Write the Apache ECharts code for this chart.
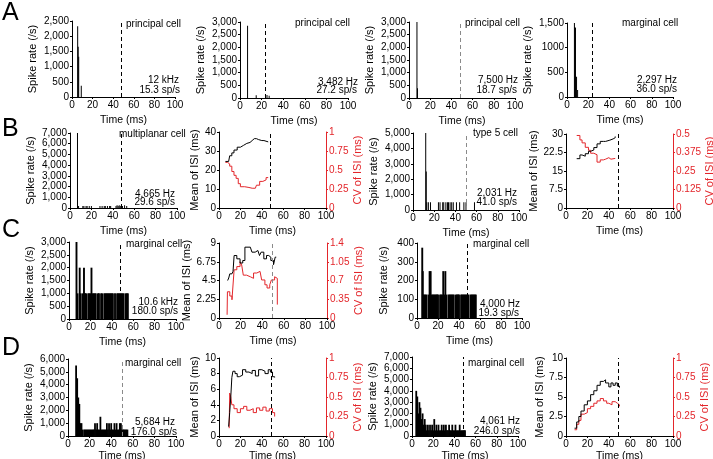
<!DOCTYPE html>
<html>
<head>
<meta charset="utf-8">
<script src="https://cdn.jsdelivr.net/npm/echarts@6/dist/echarts.min.js"></script>
<style>
  html, body { margin: 0; padding: 0; background: #fff; }
  #chart { width: 713px; height: 459px; }
</style>
</head>
<body>
<div id="chart"></div>
<script>
// ---- data ----
var timeTicks = [0, 20, 40, 60, 80, 100];

// row A
var a1Ticks = [0, 500, 1000, 1500, 2000, 2500];
var a1Labels = ['0', '500', '1,000', '1,500', '2,000', '2,500'];
var a1Bars = [[5.5, 2330], [6, 1650], [6.5, 1320], [9, 370]];

var a2Ticks = [0, 500, 1000, 1500, 2000, 2500, 3000];
var a2Labels = ['0', '500', '1,000', '1,500', '2,000', '2,500', '3,000'];
var a2Bars = [[7, 2850], [15, 110], [25, 120], [27, 90]];

var a3Ticks = [0, 500, 1000, 1500, 2000, 2500, 3000];
var a3Labels = ['0', '500', '1,000', '1,500', '2,000', '2,500', '3,000'];
var a3Bars = [[7.5, 3000], [8, 380]];

var a4Ticks = [0, 500, 1000, 1500];
var a4Labels = ['0', '500', '1000', '1,500'];
var a4Bars = [[7, 1500], [7.5, 1420], [8, 1400], [9, 410], [10, 140]];

// row B
var b1Ticks = [0, 1000, 2000, 3000, 4000, 5000, 6000, 7000];
var b1Labels = ['0', '1,000', '2,000', '3,000', '4,000', '5,000', '6,000', '7,000'];
var b1Bars = [[7, 7000], [8, 180], [12, 180], [13, 180], [15, 180], [16, 180], [18, 180], [20, 180],
  [28, 180], [30, 180], [32, 180], [33, 180], [35, 180], [37, 180], [38, 180], [43, 180], [44, 250],
  [45, 180], [46, 250], [47, 180], [48, 250], [49, 180], [51, 250], [53, 180]];

var b2MeanTicks = [0, 10, 20, 30, 40];
var b2CvTicks = [0, 0.25, 0.5, 0.75, 1];
var b2Mean = [[6, 24.5], [9, 25], [10, 27.5], [12, 29], [14, 30.5], [17, 32], [20, 33], [23, 34],
  [26, 34.5], [29, 35.5], [31, 36.5], [33, 36.5], [35, 36], [37, 35.5], [40, 35.5], [42, 34.8], [46, 34.5]];
var b2Cv = [[6, 0.6], [8, 0.58], [10, 0.55], [12, 0.48], [14, 0.43], [16, 0.39], [18, 0.32], [20, 0.28],
  [24, 0.27], [28, 0.26], [31, 0.26], [34, 0.24], [35, 0.3], [38, 0.35], [41, 0.37], [44, 0.4], [46, 0.4]];

var b3Ticks = [0, 1000, 2000, 3000, 4000, 5000];
var b3Labels = ['0', '1,000', '2,000', '3,000', '4,000', '5,000'];
var b3Bars = [[12, 5000], [12.5, 2500], [13, 500], [14.5, 500], [16.5, 500], [24, 500], [25.5, 500],
  [28, 500], [29, 500], [31, 500], [32.5, 500], [33.5, 500], [35, 500], [36.5, 500], [38, 500],
  [41, 500], [44, 500], [48, 500], [50, 500], [58, 500]];

var b4MeanTicks = [0, 7.5, 15, 22.5, 30];
var b4CvTicks = [0, 0.125, 0.25, 0.375, 0.5];
var b4Mean = [[10, 20], [13, 21.5], [15, 21], [18, 22], [21, 23], [23, 23.5], [26, 24.5], [29, 26],
  [32, 27], [35, 27], [37, 27.5], [41, 28], [44, 28.5], [46, 29]];
var b4Cv = [[10, 0.49], [13, 0.46], [15, 0.44], [18, 0.41], [21, 0.39], [23, 0.37], [26, 0.36],
  [29, 0.31], [32, 0.325], [35, 0.33], [37, 0.34], [40, 0.33], [42, 0.335], [46, 0.335]];

// row C
var c1Ticks = [0, 500, 1000, 1500, 2000, 2500, 3000];
var c1Labels = ['0', '500', '1,000', '1,500', '2,000', '2,500', '3,000'];
var c1Bars = [[7, 3000], [8, 1000], [10, 2000], [11, 1000], [13, 1000], [14, 2000], [15, 1000],
  [16, 1000], [18, 1000], [19, 1000], [20, 1000], [21, 2000], [22, 1000], [23, 1000], [24, 1000],
  [25, 1000], [27, 1000], [28, 1000], [30, 1000], [31, 1000], [33, 1000], [34, 1000], [35, 1000],
  [36, 1000], [37, 1000], [38, 1000], [39, 1000], [40, 1000], [41, 1000], [43, 1000], [45, 1000],
  [46, 1000], [47, 1000], [48, 1000], [49, 1000], [50, 1000], [51, 1000], [53, 1000], [54, 1000], [55, 1000]];

var c2MeanTicks = [0, 2.25, 4.5, 6.75, 9];
var c2CvTicks = [0, 0.35, 0.7, 1.05, 1.4];
var c2Mean = [[8, 4.5], [9, 4.8], [10, 5.3], [12, 5.4], [13, 5.6], [14, 7.5], [16.5, 7.1], [19.5, 6.6],
  [22, 6.9], [24, 8.5], [29, 8.3], [30.5, 7.9], [33.5, 8.1], [36, 8.3], [37.5, 7.5], [39, 7.9],
  [41.5, 7.1], [44, 7.5], [46, 7.3], [48, 6.9], [50.5, 6.4], [52, 7.3], [53, 7.3]];
var c2Cv = [[7.5, 0.06], [7.8, 0.49], [10, 0.41], [12, 0.34], [13.5, 0.31], [14, 0.9], [16.5, 0.96],
  [19.5, 1.05], [21, 0.99], [22.5, 0.8], [25.5, 0.77], [29, 0.74], [32, 0.84], [35, 0.87], [38, 0.89],
  [39.5, 0.71], [42.5, 0.62], [44.5, 0.56], [47, 0.62], [48.5, 0.71], [51.5, 0.77], [53, 0.74], [54, 0.25]];

var c3Ticks = [0, 100, 200, 300, 400];
var c3Labels = ['0', '100', '200', '300', '400'];
var c3Bars = [[5, 375], [5.5, 250], [6, 125], [7, 125], [8, 125], [9, 125], [11, 125], [12, 250],
  [13, 250], [14, 125], [15, 125], [16, 125], [17, 125], [18, 125], [19, 125], [20, 125], [22, 125],
  [23, 125], [24, 125], [25, 250], [26, 125], [27, 250], [28, 125], [30, 125], [31, 125], [32, 125],
  [33, 125], [34, 125], [35, 125], [37, 125], [38, 125], [39, 125], [40, 125], [42, 125], [43, 125],
  [44, 125], [45, 125], [46, 125], [47, 125], [48, 125], [49, 125], [51, 125], [52, 125], [53, 125],
  [54, 125], [55, 125], [56, 125]];

// row D
var d1Ticks = [0, 1000, 2000, 3000, 4000, 5000, 6000];
var d1Labels = ['0', '1,000', '2,000', '3,000', '4,000', '5,000', '6,000'];
var d1Bars = [[7.5, 5500], [8.5, 4500], [9.5, 3000], [10.5, 2500], [11.5, 1000], [12.5, 1000],
  [13.5, 500], [15, 500], [16, 500], [17, 500], [18, 500], [19, 500], [20, 500], [21, 500], [22, 500],
  [23, 500], [24, 500], [25, 1000], [26, 500], [27, 1000], [28, 500], [29, 500], [30, 1500], [31, 500],
  [32, 500], [33, 500], [34, 500], [35, 500], [36, 1000], [37, 500], [38, 1000], [39, 500], [40, 1000],
  [41, 500], [42, 500], [43, 1000], [44, 500], [45, 1000], [46, 500], [47, 500], [48, 1000], [49, 1000],
  [50, 500], [51, 500], [52, 500], [53, 500], [54, 500], [55, 500]];

var d2MeanTicks = [0, 2, 4, 6, 8, 10];
var d2CvTicks = [0, 0.25, 0.5, 0.75, 1];
var d2Mean = [[9, 1.2], [10, 3], [11, 5], [12, 7.5], [13, 8.3], [15, 8], [17, 7.6], [19, 7.8], [22, 8.5],
  [25, 8.2], [28, 8], [31, 8.4], [34, 7.7], [37, 8.5], [40, 8.3], [43, 8], [46, 8.5], [48, 8.2],
  [50, 7.6], [52, 7.5]];
var d2Cv = [[9.5, 0.1], [10, 0.55], [11, 0.5], [12, 0.4], [14, 0.35], [17, 0.3], [20, 0.35], [23, 0.38],
  [26, 0.33], [29, 0.35], [32, 0.3], [35, 0.36], [38, 0.33], [41, 0.37], [44, 0.32], [47, 0.35],
  [50, 0.3], [52, 0.25]];

var d3Ticks = [0, 1000, 2000, 3000, 4000, 5000, 6000, 7000];
var d3Labels = ['0', '1,000', '2,000', '3,000', '4,000', '5,000', '6,000', '7,000'];
var d3Bars = [[4, 4000], [5, 3500], [6, 2000], [7, 3000], [8, 2500], [9, 1500], [10, 2000], [11, 1000],
  [12, 1500], [13, 1000], [14, 500], [15, 1000], [16, 500], [17, 1000], [18, 500], [19, 1000], [20, 500],
  [21, 1500], [22, 500], [23, 1000], [24, 500], [25, 1000], [26, 500], [27, 500], [28, 1000], [29, 500],
  [30, 1000], [31, 500], [32, 1000], [33, 500], [34, 500], [35, 1000], [36, 500], [37, 500], [38, 1000],
  [39, 500], [40, 500], [41, 1000], [42, 500], [43, 500], [44, 500], [45, 1000], [46, 500], [47, 500],
  [48, 500], [49, 500], [50, 500]];

var d4MeanTicks = [0, 2.5, 5, 7.5, 10];
var d4CvTicks = [0, 0.25, 0.5, 0.75, 1];
var d4Mean = [[8, 1], [10, 1.8], [12, 2.5], [14, 3.2], [17, 4], [20, 4.5], [23, 5.3], [26, 5.8], [29, 6.5],
  [32, 7], [35, 7.2], [37, 6.8], [40, 6.3], [42, 6.8], [44, 6.5], [46, 6.8], [48, 6.4], [50, 6.2]];
var d4Cv = [[8, 0.08], [10, 0.15], [12, 0.2], [14, 0.28], [17, 0.3], [20, 0.35], [23, 0.38], [26, 0.42],
  [29, 0.45], [32, 0.48], [35, 0.45], [38, 0.42], [40, 0.4], [43, 0.44], [46, 0.42], [48, 0.4], [50, 0.38]];

// ---- building ----
var FONT = "'Liberation Sans', Arial, Helvetica, sans-serif";
var RED = '#e3262b';
var GRAY = '#8a8a8a';
var grids = [], xAxes = [], yAxes = [], series = [], texts = [];

function tickFmt(ticks, labels) {
  return function (v) {
    var i = Math.round((v - ticks[0]) / (ticks[1] - ticks[0]));
    return labels ? labels[i] : String(ticks[i]);
  };
}

function makeAxisY(gi, ticks, labels, name, gap, color, pos) {
  yAxes.push({
    gridIndex: gi, type: 'value', position: pos || 'left',
    min: ticks[0], max: ticks[ticks.length - 1], interval: ticks[1] - ticks[0],
    name: name, nameLocation: 'middle', nameGap: gap, nameRotate: 90,
    nameTextStyle: { fontSize: 11, color: color, fontFamily: FONT },
    axisLine: { show: true, lineStyle: { color: color, width: 1 } },
    axisTick: { show: true, length: 2, lineStyle: { color: color } },
    axisLabel: { fontSize: 10, color: color, margin: 3, fontFamily: FONT, formatter: tickFmt(ticks, labels) },
    splitLine: { show: false }
  });
  return yAxes.length - 1;
}

function makeGrid(box, timeGap) {
  grids.push({ left: box[0], top: box[1], width: box[2], height: box[3], containLabel: false, outerBoundsMode: 'none' });
  var gi = grids.length - 1;
  xAxes.push({
    gridIndex: gi, type: 'value', min: timeTicks[0], max: timeTicks[timeTicks.length - 1],
    interval: timeTicks[1] - timeTicks[0],
    name: 'Time (ms)', nameLocation: 'middle', nameGap: timeGap || 18,
    nameTextStyle: { fontSize: 10.5, color: '#000', fontFamily: FONT },
    axisLine: { show: true, onZero: false, lineStyle: { color: '#000', width: 1 } },
    axisTick: { show: true, length: 2, lineStyle: { color: '#000' } },
    axisLabel: { fontSize: 10, color: '#000', margin: 3, fontFamily: FONT },
    splitLine: { show: false }
  });
  return gi;
}

function dash(x, color) {
  return {
    silent: true, symbol: ['none', 'none'], label: { show: false },
    lineStyle: { type: [4, 3], color: color, width: 1 },
    data: [{ xAxis: x }]
  };
}

function psth(box, ticks, labels, bars, dashX, dashColor, nameGap, barW, timeGap) {
  var gi = makeGrid(box, timeGap);
  var yi = makeAxisY(gi, ticks, labels, 'Spike rate (/s)', nameGap, '#000');
  series.push({
    type: 'bar', xAxisIndex: gi, yAxisIndex: yi, data: bars, barWidth: barW || 1,
    itemStyle: { color: '#000' }, markLine: dash(dashX, dashColor)
  });
}

function isi(box, meanTicks, cvTicks, mean, cv, dashX, dashColor, timeGap) {
  var gi = makeGrid(box, timeGap);
  var yl = makeAxisY(gi, meanTicks, null, 'Mean of ISI (ms)', 19, '#000', 'left');
  var yr = makeAxisY(gi, cvTicks, null, 'CV of ISI (ms)', 25, RED, 'right');
  series.push({
    type: 'line', step: 'end', xAxisIndex: gi, yAxisIndex: yr, data: cv, symbol: 'none',
    lineStyle: { color: RED, width: 1 }
  });
  series.push({
    type: 'line', step: 'end', xAxisIndex: gi, yAxisIndex: yl, data: mean, symbol: 'none',
    lineStyle: { color: '#000', width: 1 }, markLine: dash(dashX, dashColor)
  });
}

function note(str, x, y, align, size) {
  texts.push({
    type: 'text', silent: true,
    style: { text: str, x: x, y: y, align: align, textAlign: align, verticalAlign: 'middle',
      textVerticalAlign: 'middle', fontSize: size || 10, fontFamily: FONT, fill: '#000' }
  });
}

psth([72, 21, 103, 76], a1Ticks, a1Labels, a1Bars, 48, '#000', 34);
psth([240, 22, 108, 76], a2Ticks, a2Labels, a2Bars, 23.5, '#000', 34);
psth([409, 22, 106, 76], a3Ticks, a3Labels, a3Bars, 48, GRAY, 34);
psth([567, 23, 106, 74], a4Ticks, a4Labels, a4Bars, 23.5, '#000', 34);

psth([70, 133, 107, 75], b1Ticks, b1Labels, b1Bars, 48, '#000', 34);
isi([219, 132, 107, 76], b2MeanTicks, b2CvTicks, b2Mean, b2Cv, 48, '#000');
psth([413, 133, 106, 77], b3Ticks, b3Labels, b3Bars, 50, GRAY, 34);
isi([566, 134, 107, 74], b4MeanTicks, b4CvTicks, b4Mean, b4Cv, 49, '#000');

psth([69, 242, 107, 77], c1Ticks, c1Labels, c1Bars, 48, '#000', 34, 1.9);
isi([219, 243, 108, 75], c2MeanTicks, c2CvTicks, c2Mean, c2Cv, 49, GRAY);
psth([417, 243, 105, 75], c3Ticks, c3Labels, c3Bars, 48, '#000', 28, 1.9);

psth([68, 359, 108, 77], d1Ticks, d1Labels, d1Bars, 50, GRAY, 34, 1.8, 15);
isi([219, 358, 107, 78], d2MeanTicks, d2CvTicks, d2Mean, d2Cv, 49, '#000', 15);
psth([412, 357, 106, 79], d3Ticks, d3Labels, d3Bars, 48, '#000', 34, 1.8, 15);
isi([566, 358, 107, 78], d4MeanTicks, d4CvTicks, d4Mean, d4Cv, 49, '#000', 15);

// panel letters
note('A', 2, 13, 'left', 25);
note('B', 2, 129, 'left', 25);
note('C', 2, 230, 'left', 25);
note('D', 2, 348, 'left', 25);

// cell labels and stimulus notes
note('principal cell', 126, 24, 'left');
note('12 kHz', 179, 80, 'right');
note('15.3 sp/s', 180, 90, 'right');
note('principal cell', 295, 23, 'left');
note('3,482 Hz', 358, 82, 'right');
note('27.2 sp/s', 357, 90, 'right');
note('principal cell', 465, 23, 'left');
note('7,500 Hz', 518, 80, 'right');
note('18.7 sp/s', 517, 90, 'right');
note('marginal cell', 622, 23, 'left');
note('2,297 Hz', 677, 80, 'right');
note('36.0 sp/s', 677, 89, 'right');

note('multiplanar cell', 119, 134, 'left');
note('4,665 Hz', 175, 194, 'right');
note('29.6 sp/s', 175, 202, 'right');
note('type 5 cell', 473, 133, 'left');
note('2,031 Hz', 517, 193, 'right');
note('41.0 sp/s', 517, 202, 'right');

note('marginal cell', 126, 244, 'left');
note('10.6 kHz', 178, 302, 'right');
note('180.0 sp/s', 178, 311, 'right');
note('marginal cell', 473, 244, 'left');
note('4,000 Hz', 520, 304, 'right');
note('19.3 sp/s', 519, 313, 'right');

note('marginal cell', 125, 363, 'left');
note('5,684 Hz', 175, 422, 'right');
note('176.0 sp/s', 177, 432, 'right');
note('marginal cell', 468, 363, 'left');
note('4,061 Hz', 520, 421, 'right');
note('246.0 sp/s', 520, 431, 'right');

var chart = echarts.init(document.getElementById('chart'));
chart.setOption({
  animation: false,
  backgroundColor: '#fff',
  textStyle: { fontFamily: FONT },
  grid: grids,
  xAxis: xAxes,
  yAxis: yAxes,
  series: series,
  graphic: { elements: texts }
});
</script>
</body>
</html>
